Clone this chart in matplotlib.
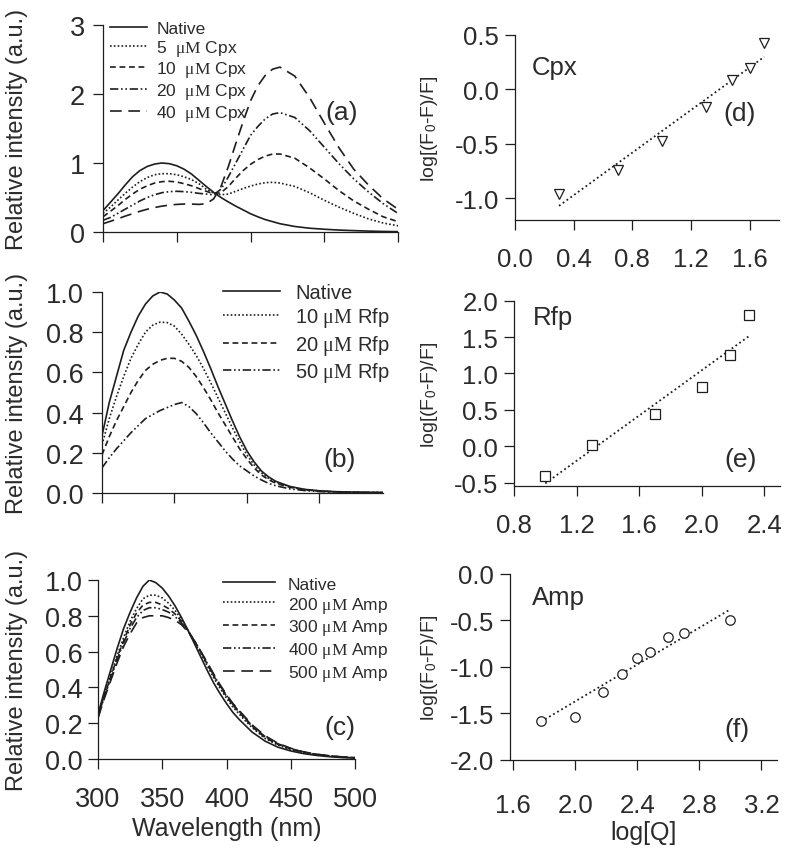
import matplotlib
matplotlib.use("Agg")
import matplotlib.pyplot as plt

plt.rcParams['font.family'] = ['Liberation Sans', 'DejaVu Sans']
plt.rcParams['mathtext.fontset'] = 'custom'
plt.rcParams['mathtext.rm'] = 'Liberation Serif'
plt.rcParams['mathtext.sf'] = 'Liberation Sans'
plt.rcParams['mathtext.it'] = 'Liberation Serif:italic'
plt.rcParams['axes.unicode_minus'] = False

# ---------------- data ----------------
# shared wavelength grid (nm) for the emission spectra
wl = [300, 305, 310, 315, 320,
      325, 330, 335, 340, 345,
      350, 355, 360, 365, 370,
      375, 380, 385, 390, 395,
      400, 405, 410, 415, 420,
      430, 440, 450, 460, 470, 480, 490, 500]

# panel (a): Cpx
native_a = [0.31, 0.43, 0.55, 0.68, 0.80,
            0.89, 0.95, 0.985, 1.0, 0.99,
            0.96, 0.91, 0.84, 0.75, 0.66,
            0.575, 0.5, 0.435, 0.375, 0.32,
            0.265, 0.22, 0.18, 0.15, 0.12,
            0.08, 0.055, 0.04, 0.028, 0.02, 0.013, 0.008, 0.005]
cpx5 = [0.27, 0.36, 0.46, 0.56, 0.65,
        0.73, 0.79, 0.83, 0.845, 0.845,
        0.83, 0.8, 0.76, 0.7, 0.62,
        0.565, 0.54, 0.55, 0.59, 0.63,
        0.665, 0.695, 0.715, 0.72, 0.71,
        0.66, 0.57, 0.46, 0.36, 0.27, 0.19, 0.13, 0.09]
cpx10 = [0.22, 0.3, 0.38, 0.47, 0.55,
         0.62, 0.67, 0.71, 0.73, 0.735,
         0.725, 0.7, 0.67, 0.63, 0.59,
         0.555, 0.57, 0.66, 0.78, 0.89,
         0.98, 1.05, 1.1, 1.13, 1.13,
         1.07, 0.93, 0.77, 0.6, 0.45, 0.33, 0.22, 0.15]
cpx20 = [0.17, 0.21, 0.27, 0.33, 0.39,
         0.45, 0.5, 0.54, 0.57, 0.585,
         0.59, 0.585, 0.575, 0.56, 0.55,
         0.54, 0.62, 0.8, 1.0, 1.2,
         1.4, 1.53, 1.64, 1.71, 1.73,
         1.66, 1.47, 1.23, 0.99, 0.77, 0.58, 0.41, 0.27]
cpx40 = [0.12, 0.155, 0.19, 0.23, 0.265,
         0.3, 0.33, 0.355, 0.375, 0.39,
         0.4, 0.405, 0.405, 0.4, 0.41,
         0.48, 0.66, 0.95, 1.28, 1.6,
         1.9, 2.12, 2.27, 2.36, 2.39,
         2.26, 1.95, 1.58, 1.22, 0.91, 0.68, 0.48, 0.33]
labels_a = ['Native', r'5  $\mathrm{\mu M}$ Cpx', r'10  $\mathrm{\mu M}$ Cpx',
            r'20  $\mathrm{\mu M}$ Cpx', r'40  $\mathrm{\mu M}$ Cpx']

# panel (b): Rfp
native_b = [0.285, 0.45, 0.58, 0.71, 0.8,
            0.88, 0.94, 0.98, 1.0, 0.99,
            0.96, 0.92, 0.855, 0.785, 0.705,
            0.62, 0.53, 0.445, 0.36, 0.28,
            0.21, 0.155, 0.11, 0.08, 0.058,
            0.032, 0.018, 0.011, 0.007, 0.005, 0.004, 0.003, 0.002]
rfp10 = [0.24, 0.37, 0.48, 0.58, 0.67,
         0.74, 0.8, 0.835, 0.85, 0.848,
         0.83, 0.79, 0.74, 0.685, 0.62,
         0.55, 0.475, 0.4, 0.325, 0.255,
         0.19, 0.14, 0.1, 0.073, 0.053,
         0.03, 0.017, 0.01, 0.006, 0.004, 0.003, 0.002, 0.002]
rfp20 = [0.19, 0.28, 0.36, 0.43, 0.5,
         0.56, 0.61, 0.64, 0.66, 0.67,
         0.67, 0.655, 0.625, 0.58, 0.525,
         0.465, 0.4, 0.34, 0.28, 0.22,
         0.17, 0.125, 0.09, 0.066, 0.048,
         0.028, 0.016, 0.01, 0.006, 0.004, 0.003, 0.002, 0.002]
rfp50 = [0.125, 0.175, 0.22, 0.26, 0.3,
         0.335, 0.37, 0.39, 0.41, 0.425,
         0.44, 0.45, 0.43, 0.395, 0.35,
         0.3, 0.255, 0.21, 0.17, 0.135,
         0.11, 0.085, 0.065, 0.048, 0.036,
         0.02, 0.012, 0.007, 0.004, 0.003, 0.002, 0.002, 0.001]
labels_b = ['Native', r'10 $\mathrm{\mu M}$ Rfp', r'20 $\mathrm{\mu M}$ Rfp', r'50 $\mathrm{\mu M}$ Rfp']

# panel (c): Amp
native_c = [0.25, 0.38, 0.5, 0.62, 0.73,
            0.82, 0.9, 0.965, 1.0, 0.985,
            0.955, 0.91, 0.855, 0.79, 0.72,
            0.645, 0.57, 0.495, 0.425, 0.365,
            0.31, 0.26, 0.22, 0.185, 0.15,
            0.1, 0.066, 0.045, 0.03, 0.02, 0.013, 0.008, 0.005]
amp200 = [0.24, 0.36, 0.47, 0.58, 0.68,
          0.77, 0.84, 0.895, 0.915, 0.915,
          0.9, 0.87, 0.83, 0.78, 0.72,
          0.655, 0.59, 0.52, 0.455, 0.395,
          0.34, 0.29, 0.25, 0.21, 0.175,
          0.115, 0.078, 0.053, 0.036, 0.024, 0.016, 0.01, 0.007]
amp300 = [0.24, 0.355, 0.46, 0.57, 0.66,
          0.75, 0.815, 0.86, 0.875, 0.875,
          0.86, 0.84, 0.81, 0.77, 0.72,
          0.66, 0.6, 0.53, 0.465, 0.405,
          0.35, 0.3, 0.26, 0.22, 0.18,
          0.12, 0.082, 0.056, 0.038, 0.025, 0.017, 0.011, 0.007]
amp400 = [0.23, 0.35, 0.45, 0.56, 0.65,
          0.73, 0.79, 0.83, 0.845, 0.845,
          0.835, 0.82, 0.795, 0.76, 0.715,
          0.66, 0.6, 0.535, 0.47, 0.41,
          0.355, 0.305, 0.265, 0.225, 0.185,
          0.125, 0.085, 0.058, 0.039, 0.026, 0.017, 0.011, 0.007]
amp500 = [0.23, 0.34, 0.44, 0.54, 0.63,
          0.7, 0.76, 0.79, 0.8, 0.8,
          0.8, 0.79, 0.775, 0.75, 0.71,
          0.66, 0.6, 0.54, 0.475, 0.415,
          0.36, 0.31, 0.27, 0.23, 0.19,
          0.13, 0.088, 0.06, 0.04, 0.027, 0.018, 0.012, 0.008]
labels_c = ['Native', r'200 $\mathrm{\mu M}$ Amp', r'300 $\mathrm{\mu M}$ Amp',
            r'400 $\mathrm{\mu M}$ Amp', r'500 $\mathrm{\mu M}$ Amp']

# panel (d): Cpx double-log
logq_d = [0.3, 0.7, 1.0, 1.3, 1.48, 1.6, 1.7]
logf_d = [-0.96, -0.74, -0.47, -0.16, 0.09, 0.2, 0.43]
fit_x_d = [0.3, 1.7]
fit_y_d = [-1.07, 0.30]

# panel (e): Rfp double-log
logq_e = [1.0, 1.3, 1.7, 2.0, 2.18, 2.3]
logf_e = [-0.41, 0.02, 0.44, 0.82, 1.25, 1.81]
fit_x_e = [1.0, 2.3]
fit_y_e = [-0.51, 1.51]

# panel (f): Amp double-log
logq_f = [1.78, 2.0, 2.18, 2.3, 2.4, 2.48, 2.6, 2.7, 3.0]
logf_f = [-1.58, -1.54, -1.27, -1.08, -0.91, -0.84, -0.68, -0.64, -0.5]
fit_x_f = [1.78, 3.0]
fit_y_f = [-1.59, -0.38]

# ---------------- style ----------------
INK = '#1e1e1e'
TXT = '#2b2b2b'
W, H = 787, 854

styles5 = ['-', (0, (1, 1.3)), (0, (3.5, 2.2)), (0, (5, 1.6, 1, 1.6, 1, 1.6)), (0, (7, 4))]


def px_axes(l, r, t, b):
    return [l / W, (H - b) / H, (r - l) / W, (b - t) / H]


def style_ax(ax, fs, ypad, xpad):
    for s in ['top', 'right']:
        ax.spines[s].set_visible(False)
    for s in ['left', 'bottom']:
        ax.spines[s].set_linewidth(0.9)
        ax.spines[s].set_color(INK)
    ax.tick_params(direction='out', length=7, width=0.9, colors=INK,
                   labelcolor=TXT, labelsize=fs)
    ax.tick_params(axis='y', pad=ypad)
    ax.tick_params(axis='x', pad=xpad)


fig = plt.figure(figsize=(W / 100, H / 100), dpi=100)

# ---- (a)
ax = fig.add_axes(px_axes(103, 398, 26, 233))
for ys, ls in zip([native_a, cpx5, cpx10, cpx20, cpx40], styles5):
    ax.plot(wl, ys, color=INK, lw=1.2, linestyle=ls)
ax.set_xlim(300, 500)
ax.set_ylim(0, 3)
ax.set_xticks([300, 350, 400, 450, 500])
ax.set_xticklabels([])
ax.set_yticks([0, 1, 2, 3])
style_ax(ax, 19.5, 6, 12)
ax.legend(labels_a, loc='upper left', bbox_to_anchor=(0.025, 1.02), frameon=False,
          fontsize=12.5, handlelength=2.1, handletextpad=0.55, labelspacing=0.1,
          borderpad=0, borderaxespad=0, labelcolor=TXT)
ax.text(0.81, 0.58, '(a)', transform=ax.transAxes, fontsize=19, color=TXT,
        ha='center', va='center')

# ---- (b)
ax = fig.add_axes(px_axes(102, 383, 293, 494))
for ys, ls in zip([native_b, rfp10, rfp20, rfp50], styles5[:4]):
    ax.plot(wl, ys, color=INK, lw=1.2, linestyle=ls)
ax.set_xlim(300, 494)
ax.set_ylim(0, 1.0)
ax.set_xticks([300, 350, 400, 450])
ax.set_xticklabels([])
ax.set_yticks([0, 0.2, 0.4, 0.6, 0.8, 1.0])
ax.set_yticklabels(['0.0', '0.2', '0.4', '0.6', '0.8', '1.0'])
style_ax(ax, 19.5, 6, 12)
ax.legend(labels_b, loc='upper left', bbox_to_anchor=(0.432, 1.045), frameon=False,
          fontsize=14.5, handlelength=2.83, handletextpad=0.75, labelspacing=0.17,
          borderpad=0, borderaxespad=0, labelcolor=TXT)
ax.text(0.846, 0.17, '(b)', transform=ax.transAxes, fontsize=19, color=TXT,
        ha='center', va='center')

# ---- (c)
ax = fig.add_axes(px_axes(98, 355, 581, 760))
for ys, ls in zip([native_c, amp200, amp300, amp400, amp500], styles5):
    ax.plot(wl, ys, color=INK, lw=1.2, linestyle=ls)
ax.set_xlim(300, 500)
ax.set_ylim(0, 1.0)
ax.set_xticks([300, 350, 400, 450, 500])
ax.set_yticks([0, 0.2, 0.4, 0.6, 0.8, 1.0])
ax.set_yticklabels(['0.0', '0.2', '0.4', '0.6', '0.8', '1.0'])
style_ax(ax, 19.5, 4, 12.5)
ax.legend(labels_c, loc='upper left', bbox_to_anchor=(0.486, 1.02), frameon=False,
          fontsize=12.5, handlelength=3.0, handletextpad=0.75, labelspacing=0.17,
          borderpad=0, borderaxespad=0, labelcolor=TXT)
ax.text(0.94, 0.18, '(c)', transform=ax.transAxes, fontsize=19, color=TXT,
        ha='center', va='center')
ax.set_xlabel('Wavelength (nm)', fontsize=18, color=TXT, labelpad=3)

for cy in [(26 + 233) / 2, (293 + 494) / 2, (581 + 760) / 2]:
    fig.text(17 / W, 1 - cy / H, 'Relative intensity (a.u.)', rotation=90,
             ha='center', va='center', fontsize=17, color=TXT)

fit_style = dict(color=INK, lw=1.3, linestyle=(0, (1, 1.6)))
mk_style = dict(linestyle='none', markerfacecolor='white', markeredgecolor=INK,
                markeredgewidth=0.9)

# ---- (d)
ax = fig.add_axes(px_axes(515, 779, 36, 221))
ax.plot(fit_x_d, fit_y_d, **fit_style)
ax.plot(logq_d, logf_d, marker='v', markersize=7.5, **mk_style)
ax.set_xlim(0, 1.8)
ax.set_ylim(-1.2, 0.5)
ax.set_xticks([0.0, 0.4, 0.8, 1.2, 1.6])
ax.set_xticklabels(['0.0', '0.4', '0.8', '1.2', '1.6'])
ax.set_yticks([-1.0, -0.5, 0.0, 0.5])
ax.set_yticklabels(['-1.0', '-0.5', '0.0', '0.5'])
style_ax(ax, 18.5, 4.5, 12.5)
ax.text(0.063, 0.825, 'Cpx', transform=ax.transAxes, fontsize=18.5, color=TXT,
        ha='left', va='center')
ax.text(0.852, 0.58, '(d)', transform=ax.transAxes, fontsize=19, color=TXT,
        ha='center', va='center')

# ---- (e)
ax = fig.add_axes(px_axes(514, 780, 301.7, 487.3))
ax.plot(fit_x_e, fit_y_e, **fit_style)
ax.plot(logq_e, logf_e, marker='s', markersize=6.5, **mk_style)
ax.set_xlim(0.8, 2.5)
ax.set_ylim(-0.55, 2.0)
ax.set_xticks([0.8, 1.2, 1.6, 2.0, 2.4])
ax.set_xticklabels(['0.8', '1.2', '1.6', '2.0', '2.4'])
ax.set_yticks([-0.5, 0.0, 0.5, 1.0, 1.5, 2.0])
ax.set_yticklabels(['-0.5', '0.0', '0.5', '1.0', '1.5', '2.0'])
style_ax(ax, 18.5, 4.5, 12)
ax.text(0.07, 0.91, 'Rfp', transform=ax.transAxes, fontsize=18.5, color=TXT,
        ha='left', va='center')
ax.text(0.85, 0.147, '(e)', transform=ax.transAxes, fontsize=19, color=TXT,
        ha='center', va='center')

# ---- (f)
ax = fig.add_axes(px_axes(510, 777, 575, 760.7))
ax.plot(fit_x_f, fit_y_f, **fit_style)
ax.plot(logq_f, logf_f, marker='o', markersize=6.8, **mk_style)
ax.set_xlim(1.58, 3.3)
ax.set_ylim(-2.0, 0.0)
ax.set_xticks([1.6, 2.0, 2.4, 2.8, 3.2])
ax.set_xticklabels(['1.6', '2.0', '2.4', '2.8', '3.2'])
ax.set_yticks([-2.0, -1.5, -1.0, -0.5, 0.0])
ax.set_yticklabels(['-2.0', '-1.5', '-1.0', '-0.5', '0.0'])
style_ax(ax, 18.5, 4.5, 17)
ax.text(0.081, 0.875, 'Amp', transform=ax.transAxes, fontsize=18.5, color=TXT,
        ha='left', va='center')
ax.text(0.849, 0.165, '(f)', transform=ax.transAxes, fontsize=19, color=TXT,
        ha='center', va='center')
ax.set_xlabel('log[Q]', fontsize=18, color=TXT, labelpad=2)

for cy in [(36 + 221) / 2, (301.7 + 487.3) / 2, (575 + 760.7) / 2]:
    fig.text(429 / W, 1 - cy / H, r'log[(F$_\mathsf{0}$-F)/F]', rotation=90,
             ha='center', va='center', fontsize=14, color=TXT)

fig.savefig('out.png', dpi=100)
